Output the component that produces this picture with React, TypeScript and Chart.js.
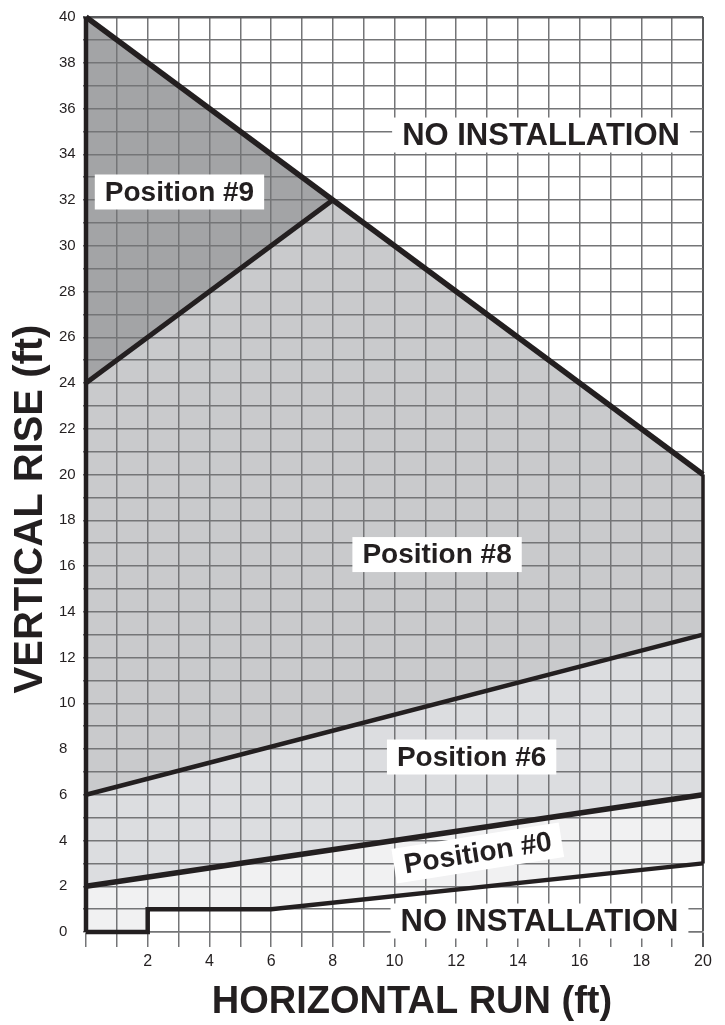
import React, { useEffect, useRef } from 'react';
import { Chart, registerables } from 'chart.js';

Chart.register(...registerables);

// ---- Data ----
const X_MIN = 0;
const X_MAX = 20;
const Y_MIN = 0;
const Y_MAX = 40;
const xTickLabels = [2, 4, 6, 8, 10, 12, 14, 16, 18, 20];
const yTickLabels = [0, 2, 4, 6, 8, 10, 12, 14, 16, 18, 20, 22, 24, 26, 28, 30, 32, 34, 36, 38, 40];

// Region polygons (ft run, ft rise)
const position9 = [{ x: 0, y: 40 }, { x: 8, y: 32 }, { x: 0, y: 24 }];
const position8 = [{ x: 0, y: 24 }, { x: 8, y: 32 }, { x: 20, y: 20 }, { x: 20, y: 13 }, { x: 0, y: 6 }];
const position6 = [{ x: 0, y: 6 }, { x: 20, y: 13 }, { x: 20, y: 6 }, { x: 0, y: 2 }];
const position0 = [{ x: 0, y: 2 }, { x: 20, y: 6 }, { x: 20, y: 3 }, { x: 6, y: 1 }, { x: 2, y: 1 }, { x: 2, y: 0 }, { x: 0, y: 0 }];

// Boundary lines
const upperLimit = [{ x: 0, y: 40 }, { x: 20, y: 20 }];
const line9to8 = [{ x: 0, y: 24 }, { x: 8, y: 32 }];
const leftEdge = [{ x: 0, y: 0 }, { x: 0, y: 40 }];
const rightEdge = [{ x: 20, y: 3 }, { x: 20, y: 20 }];
const line8to6 = [{ x: 0, y: 6 }, { x: 20, y: 13 }];
const line6to0 = [{ x: 0, y: 2 }, { x: 20, y: 6 }];
const lowerLimit = [{ x: 0, y: 0 }, { x: 2, y: 0 }, { x: 2, y: 1 }, { x: 6, y: 1 }, { x: 20, y: 3 }];

// Region labels
const regionLabels = ['NO INSTALLATION', 'Position #9', 'Position #8', 'Position #6', 'Position #0', 'NO INSTALLATION'];
const regionLabelX = [14.75, 3.03, 11.38, 12.5, 12.7, 14.7];
const regionLabelY = [34.84, 32.35, 16.5, 7.65, 3.45, 0.48];
const regionLabelAngle = [0, 0, 0, 0, -9, 0];
const regionLabelSize = [31, 28, 28, 28, 28, 31];

const X_TITLE = 'HORIZONTAL RUN (ft)';
const Y_TITLE = 'VERTICAL RISE (ft)';

// ---- Styles ----
const FONT = '"Liberation Sans", Arial, Helvetica, sans-serif';
const INK = '#231f20';
const GRID = '#747577';
const FRAME = '#58595b';
const FILL_9 = '#a3a4a6';
const FILL_8 = '#c9cacc';
const FILL_6 = '#dcdde0';
const FILL_0 = '#f1f1f2';

const fillSet = (data: any[], color: string) => ({
  data,
  showLine: true,
  fill: 'shape',
  backgroundColor: color,
  borderColor: 'rgba(0,0,0,0)',
  borderWidth: 0,
  pointRadius: 0,
});

const lineSet = (data: any[], width: number) => ({
  data,
  showLine: true,
  fill: false,
  borderColor: INK,
  borderWidth: width,
  pointRadius: 0,
  clip: false,
  borderJoinStyle: 'miter',
  borderCapStyle: 'butt',
});

const textPlugin = {
  id: 'regionText',
  afterDatasetsDraw(chart: any) {
    const { ctx, scales } = chart;
    const xs = scales.x;
    const ys = scales.y;
    for (let i = 0; i < regionLabels.length; i++) {
      const px = xs.getPixelForValue(regionLabelX[i]);
      const py = ys.getPixelForValue(regionLabelY[i]);
      ctx.save();
      ctx.translate(px, py);
      ctx.rotate((regionLabelAngle[i] * Math.PI) / 180);
      ctx.font = `bold ${regionLabelSize[i]}px ${FONT}`;
      const w = ctx.measureText(regionLabels[i]).width + 20;
      const h = 35;
      ctx.fillStyle = '#ffffff';
      ctx.fillRect(-w / 2, -h / 2, w, h);
      ctx.fillStyle = INK;
      ctx.textAlign = 'center';
      ctx.textBaseline = 'middle';
      ctx.fillText(regionLabels[i], 0, 1);
      ctx.restore();
    }
  },
  afterDraw(chart: any) {
    const { ctx } = chart;
    ctx.save();
    ctx.fillStyle = INK;
    ctx.textAlign = 'center';
    ctx.textBaseline = 'middle';
    ctx.font = `bold 38px ${FONT}`;
    ctx.fillText(X_TITLE, 412, 1003);
    ctx.translate(31, 509);
    ctx.rotate(-Math.PI / 2);
    ctx.font = `bold 40px ${FONT}`;
    ctx.fillText(Y_TITLE, 0, 0);
    ctx.restore();
  },
};

export default function App() {
  const ref = useRef<HTMLCanvasElement>(null);
  useEffect(() => {
    const canvas = ref.current;
    if (!canvas) return;
    const chart = new Chart(canvas, {
      type: 'scatter',
      data: {
        datasets: [
          fillSet(position9, FILL_9),
          fillSet(position8, FILL_8),
          fillSet(position6, FILL_6),
          fillSet(position0, FILL_0),
          lineSet(leftEdge, 4.5),
          lineSet(rightEdge, 3.5),
          lineSet(upperLimit, 5.5),
          lineSet(line9to8, 5),
          lineSet(line8to6, 4.5),
          lineSet(line6to0, 5.5),
          lineSet(lowerLimit, 4.5),
        ] as any,
      },
      options: {
        responsive: false,
        animation: false,
        devicePixelRatio: 1,
        layout: { padding: { left: 59, top: 17, right: 22, bottom: 0 } },
        plugins: {
          legend: { display: false },
          tooltip: { enabled: false },
          filler: { drawTime: 'beforeDraw' },
        } as any,
        scales: {
          x: {
            type: 'linear',
            min: X_MIN,
            max: X_MAX,
            afterFit: (s: any) => { s.height = 93; },
            ticks: {
              stepSize: 1,
              autoSkip: false,
              maxRotation: 0,
              padding: 5,
              color: INK,
              font: { family: FONT, size: 16 },
              callback: (v: any) => (xTickLabels.includes(Number(v)) ? String(v) : ''),
            },
            grid: {
              color: (c: any) => (c.tick && c.tick.value === X_MAX ? FRAME : GRID),
              lineWidth: (c: any) => (c.tick && c.tick.value === X_MAX ? 2 : 1.5),
              tickLength: 15,
              drawTicks: true,
            },
            border: { display: true, color: GRID, width: 1.5 },
          },
          y: {
            type: 'linear',
            min: Y_MIN,
            max: Y_MAX,
            afterFit: (s: any) => { s.width = 27; },
            ticks: {
              stepSize: 1,
              autoSkip: false,
              crossAlign: 'far',
              padding: 2,
              color: INK,
              font: { family: FONT, size: 15 },
              callback: (v: any) => (yTickLabels.includes(Number(v)) ? String(v) : ''),
            },
            grid: {
              color: (c: any) => (c.tick && c.tick.value === Y_MAX ? FRAME : GRID),
              lineWidth: (c: any) => (c.tick && c.tick.value === Y_MAX ? 2.5 : 1.5),
              tickLength: 3,
            },
            border: { display: true, color: GRID, width: 1.5 },
          },
        },
      } as any,
      plugins: [textPlugin],
    });
    return () => chart.destroy();
  }, []);

  return (
    <div style={{ position: 'absolute', left: 0, top: 0, width: 725, height: 1025, background: '#fff' }}>
      <canvas ref={ref} width={725} height={1025} style={{ display: 'block', width: 725, height: 1025 }} />
    </div>
  );
}
